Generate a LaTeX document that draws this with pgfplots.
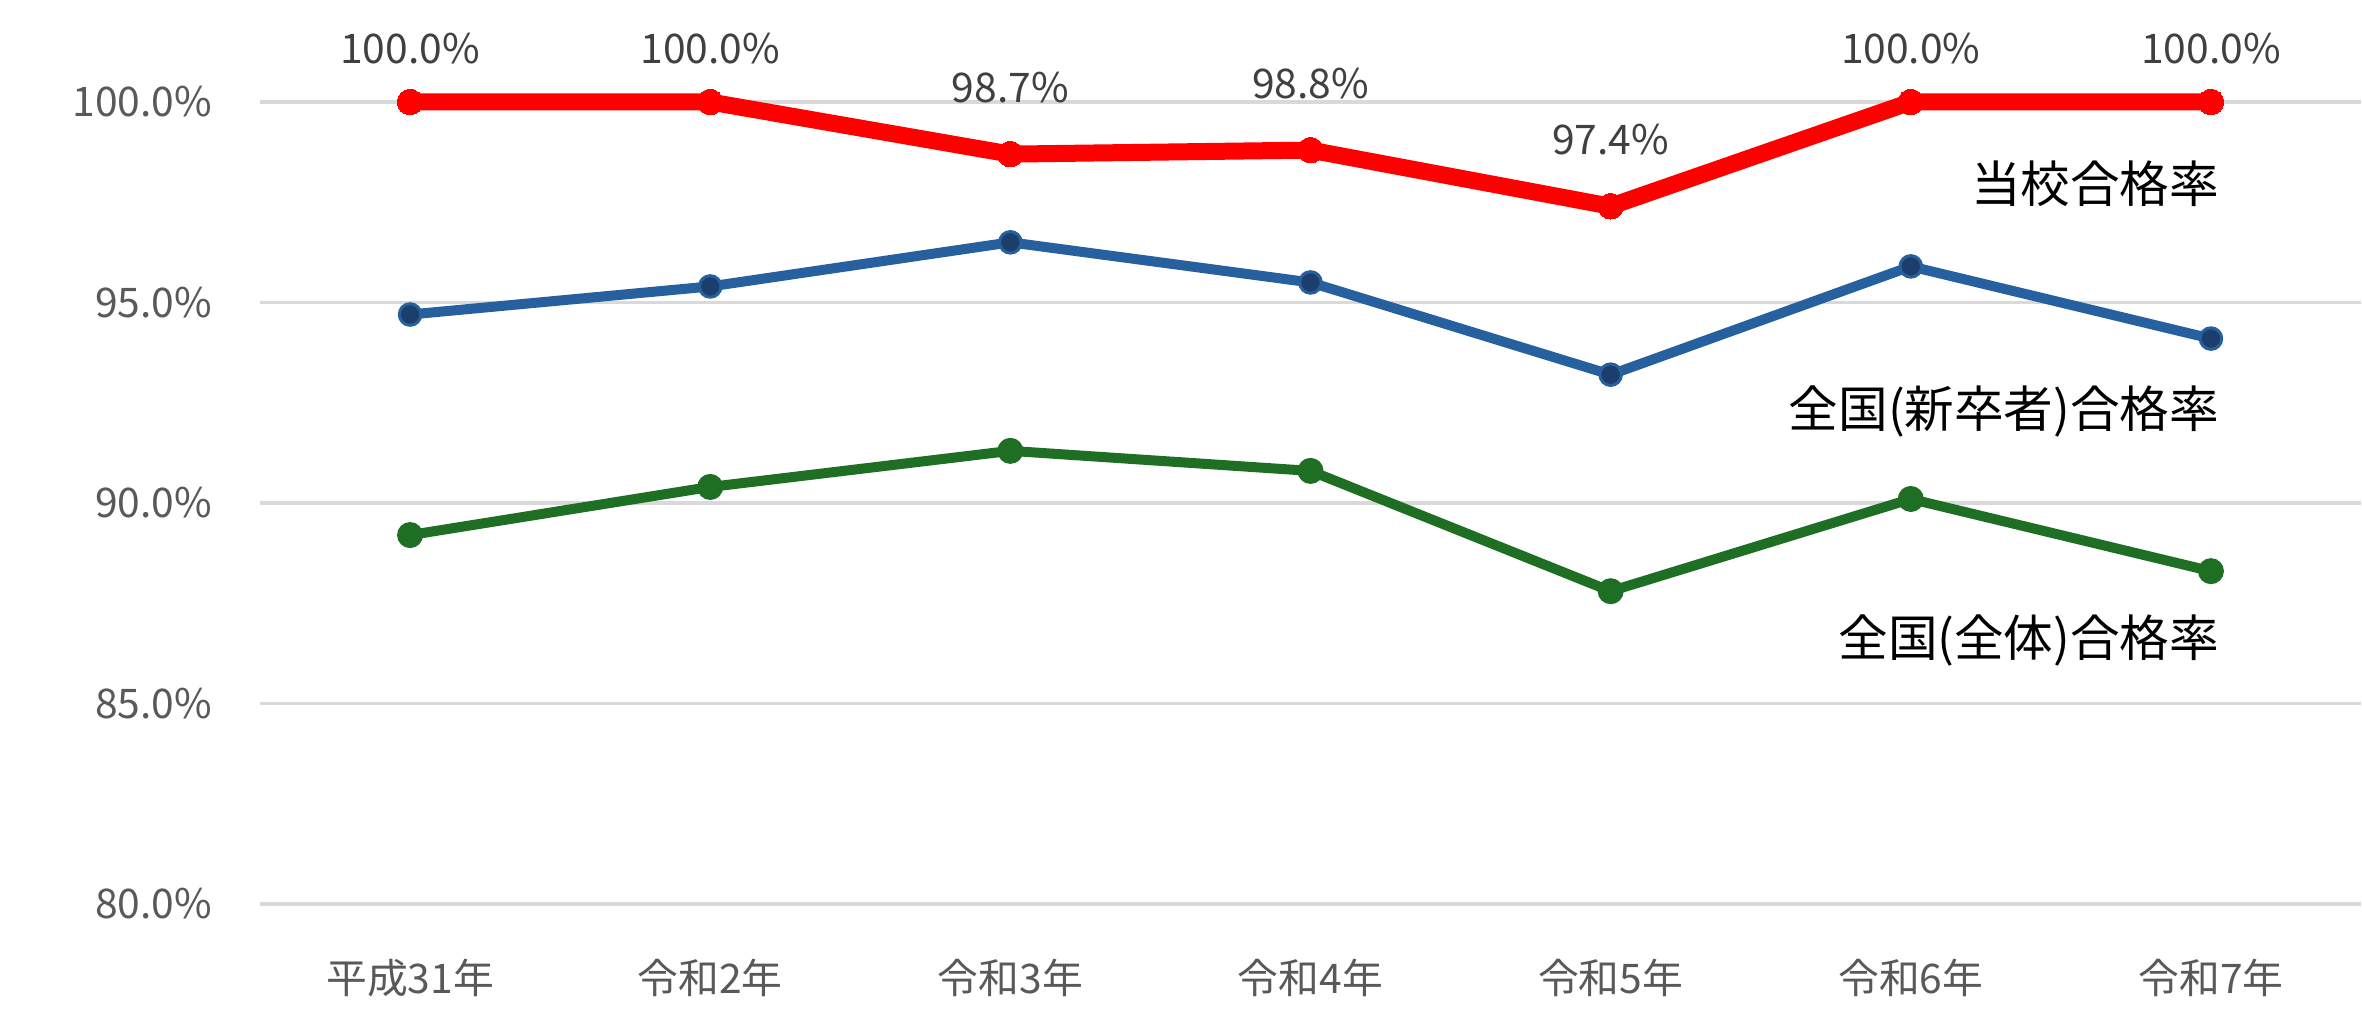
\documentclass[border=0pt]{standalone}
\usepackage{pgfplots}
\pgfplotsset{compat=1.18}
\usepackage{fontspec}
\setmainfont{Noto Sans CJK JP}
\definecolor{myred}{RGB}{255,0,0}
\definecolor{myblue}{RGB}{38,96,158}
\definecolor{mybluedark}{RGB}{28,62,108}
\definecolor{mygreen}{RGB}{30,110,36}
\definecolor{gridgray}{RGB}{217,217,217}
\definecolor{ticktext}{RGB}{89,89,89}
\definecolor{datatext}{RGB}{64,64,64}
\pgfplotstableread{
x y
0 100
1 100
2 98.7
3 98.8
4 97.4
5 100
6 100
}\schooldata
\pgfplotstableread{
x y
0 94.7
1 95.4
2 96.5
3 95.5
4 93.2
5 95.9
6 94.1
}\newgraddata
\pgfplotstableread{
x y
0 89.2
1 90.4
2 91.3
3 90.8
4 87.8
5 90.1
6 88.3
}\alldata
\begin{document}
\begin{tikzpicture}
\path[use as bounding box] (-65pt,-32.5pt) rectangle (525.5pt,226pt);
\begin{axis}[
  at={(0,0)}, anchor=south west,
  scale only axis,
  width=525.25pt, height=200.5pt,
  xmin=-0.5, xmax=6.5, ymin=80, ymax=100,
  clip=false,
  axis line style={draw=none},
  major tick length=0pt,
  tick style={draw=none},
  ymajorgrids,
  grid style={draw=gridgray, line width=0.875pt},
  xtick={0,1,2,3,4,5,6},
  xticklabels={平成31年,令和2年,令和3年,令和4年,令和5年,令和6年,令和7年},
  ytick={80,85,90,95,100},
  /pgf/number format/assume math mode=true,
  yticklabel={\pgfmathprintnumber[fixed,fixed zerofill,precision=1]{\tick}\%},
  ticklabel style={font=\fontsize{10.2pt}{12pt}\selectfont, text=ticktext, inner sep=0pt},
  yticklabel style={anchor=east, xshift=-11.75pt},
  xticklabel style={anchor=center, yshift=-18.5pt},
  lbl/.style={draw=none, mark=none, point meta=y,
    nodes near coords={\pgfmathprintnumber[fixed,fixed zerofill,precision=1]{\pgfplotspointmeta}\%},
    nodes near coords style={anchor=center, yshift=#1, inner sep=0pt,
      font=\fontsize{10.2pt}{12pt}\selectfont, text=datatext}},
]
\addplot[mygreen, line width=2.5pt, line join=round, mark=*, mark size=3.0pt,
  mark options={fill=mygreen, draw=mygreen, line width=0.5pt}] table[x=x,y=y] {\alldata};
\addplot[myblue, line width=2.5pt, line join=round, mark=*, mark size=2.7pt,
  mark options={fill=mybluedark, draw=myblue, line width=0.75pt}] table[x=x,y=y] {\newgraddata};
\addplot[myred, line width=4.25pt, line join=round, mark=*, mark size=3.2pt,
  mark options={fill=myred, draw=myred, line width=0pt}] table[x=x,y=y] {\schooldata};
\addplot[lbl=13.25pt] coordinates {(0,100) (1,100) (5,100) (6,100)};
\addplot[lbl=16.6pt] coordinates {(2,98.7) (3,98.8) (4,97.4)};
\node[anchor=east, inner sep=0pt, font=\fontsize{12.4pt}{14pt}\selectfont, text=black] at (axis cs:6.03,97.95) {当校合格率};
\node[anchor=east, inner sep=0pt, font=\fontsize{12.4pt}{14pt}\selectfont, text=black] at (axis cs:6.03,92.27) {全国(新卒者)合格率};
\node[anchor=east, inner sep=0pt, font=\fontsize{12.4pt}{14pt}\selectfont, text=black] at (axis cs:6.03,86.58) {全国(全体)合格率};
\end{axis}
\end{tikzpicture}
\end{document}
